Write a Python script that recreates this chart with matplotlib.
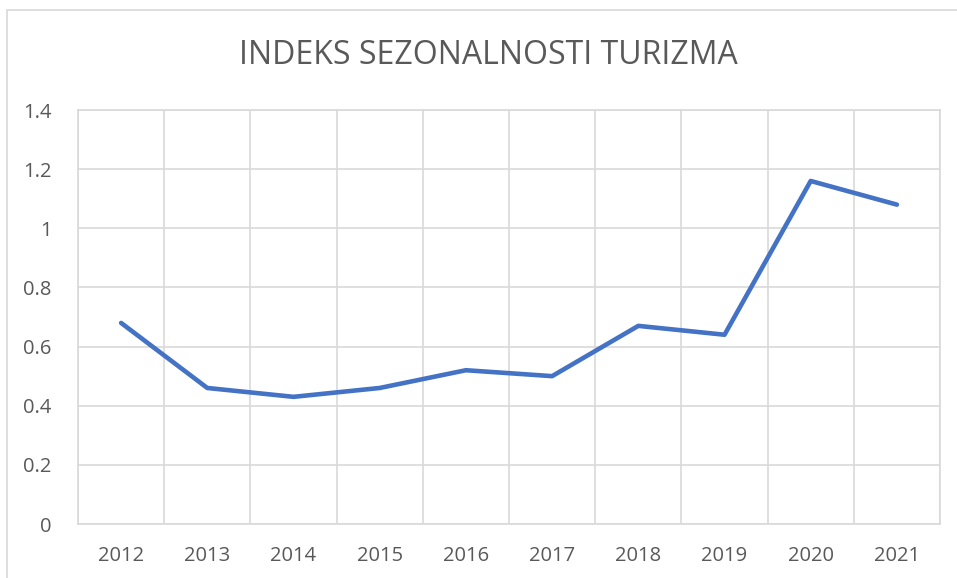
import matplotlib.pyplot as plt
from matplotlib.patches import Rectangle
import numpy as np

years = ["2012", "2013", "2014", "2015", "2016", "2017", "2018", "2019", "2020", "2021"]
index_values = [0.68, 0.46, 0.43, 0.46, 0.52, 0.50, 0.67, 0.64, 1.16, 1.08]
y_ticks = [0, 0.2, 0.4, 0.6, 0.8, 1, 1.2, 1.4]
y_labels = ["0", "0.2", "0.4", "0.6", "0.8", "1", "1.2", "1.4"]

plt.rcParams['font.family'] = ['Open Sans', 'DejaVu Sans']
text_col = '#595959'
grid_col = '#d9d9d9'

fig = plt.figure(figsize=(9.57, 5.78), dpi=100)
# outer chart border
fig.patches.append(Rectangle((7/957, -0.1), 1.1, (578-10)/578 + 0.1, transform=fig.transFigure,
                             fill=False, edgecolor=grid_col, lw=1.2))

ax = fig.add_axes([78/957, 54/578, (940-78)/957, (524-110)/578])
x = np.arange(len(years))
ax.plot(x, index_values, color='#4472C4', lw=3.3, solid_capstyle='round', solid_joinstyle='round')

ax.set_xlim(-0.5, len(years) - 0.5)
ax.set_ylim(0, 1.4)
ax.set_yticks(y_ticks)
ax.set_yticklabels(y_labels)
ax.set_xticks(x)
ax.set_xticklabels(years)
ax.set_xticks(np.arange(-0.5, len(years), 1), minor=True)
ax.grid(True, which='major', axis='y', color=grid_col, lw=1.2)
ax.grid(True, which='minor', axis='x', color=grid_col, lw=1.2)
ax.tick_params(which='both', length=0, labelsize=14.5, colors=text_col, pad=16)
ax.tick_params(axis='y', pad=19)
for s in ax.spines.values():
    s.set_color(grid_col)
    s.set_linewidth(1.2)
ax.set_axisbelow(True)

fig.text(488/957, 1 - 55/578, "INDEKS SEZONALNOSTI TURIZMA", ha='center', va='center',
         fontsize=23, color=text_col)

plt.savefig("out.png", dpi=100)
